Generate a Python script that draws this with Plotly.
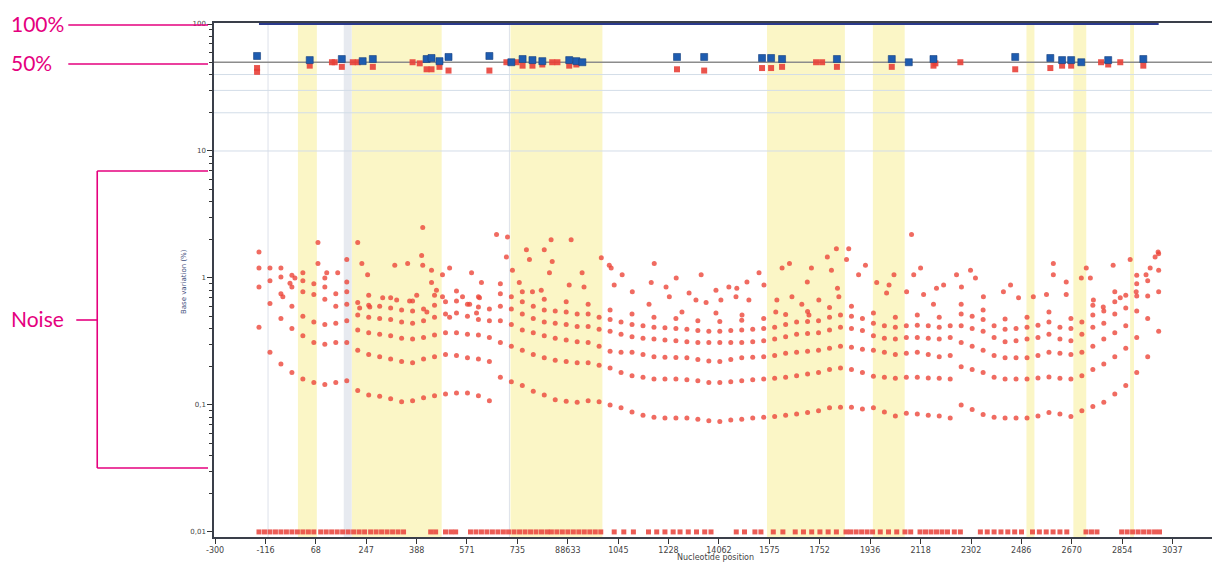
import plotly.graph_objects as go

# ---------------- data ----------------
TICK_POS = [-300, -116, 67, 251, 435, 618, 802, 986, 1170, 1353, 1537, 1721,
            1904, 2088, 2272, 2456, 2639, 2823, 3007, 3190]
TICK_TEXT = ["-300", "-116", "68", "247", "388", "571", "735", "88633", "1045",
             "1228", "14062", "1575", "1752", "1936", "2118", "2302", "2486",
             "2670", "2854", "3037"]

Y_TICKS = [0.01, 0.1, 1, 10, 100]
Y_TICK_TEXT = ["0,01", "0,1", "1", "10", "100"]

GRID_X = [-140, -100, -60, -20, 20, 60, 100, 140, 180, 220, 260, 300, 340, 380,
          420, 460, 500, 540, 580, 620, 660, 700, 740, 780, 820, 860, 900, 940,
          980, 1020, 1060, 1100, 1140, 1180, 1220, 1260, 1300, 1340, 1380, 1420,
          1460, 1500, 1540, 1580, 1620, 1660, 1700, 1740, 1780, 1820, 1860, 1900,
          1940, 1980, 2020, 2060, 2100, 2140, 2180, 2220, 2260, 2300, 2340, 2380,
          2420, 2460, 2500, 2540, 2580, 2620, 2660, 2700, 2740, 2780, 2820, 2860,
          2900, 2940, 2980, 3020, 3060, 3100, 3140]

BAND1 = [0.41, 0.26, 0.21, 0.18, 0.16, 0.15, 0.145, 0.15, 0.155, 0.13,
         0.12, 0.117, 0.112, 0.106, 0.108, 0.114, 0.118, 0.122, 0.124, 0.124,
         0.118, 0.108, 0.165, 0.152, 0.142, 0.128, 0.12, 0.11, 0.107, 0.105,
         0.108, 0.106, 0.1, 0.095, 0.088, 0.083, 0.08, 0.079, 0.079, 0.079,
         0.077, 0.075, 0.074, 0.076, 0.077, 0.079, 0.08, 0.081, 0.083, 0.085,
         0.087, 0.09, 0.095, 0.096, 0.096, 0.093, 0.095, 0.088, 0.082, 0.086,
         0.085, 0.083, 0.082, 0.079, 0.1, 0.092, 0.084, 0.08, 0.079, 0.079,
         0.079, 0.082, 0.087, 0.085, 0.081, 0.09, 0.097, 0.105, 0.122, 0.142,
         0.18, 0.24, 0.38]
BAND2 = [0.85, 0.63, 0.48, 0.40, 0.35, 0.31, 0.30, 0.31, 0.31, 0.27,
         0.25, 0.24, 0.23, 0.22, 0.215, 0.23, 0.24, 0.25, 0.245, 0.235,
         0.23, 0.22, 0.31, 0.29, 0.27, 0.25, 0.235, 0.225, 0.22, 0.215,
         0.215, 0.205, 0.195, 0.18, 0.17, 0.165, 0.16, 0.16, 0.16, 0.158,
         0.155, 0.15, 0.15, 0.152, 0.155, 0.158, 0.16, 0.162, 0.165, 0.17,
         0.175, 0.18, 0.19, 0.195, 0.19, 0.18, 0.168, 0.165, 0.162, 0.165,
         0.165, 0.163, 0.162, 0.16, 0.2, 0.19, 0.18, 0.165, 0.16, 0.16,
         0.16, 0.163, 0.166, 0.162, 0.16, 0.17, 0.19, 0.21, 0.24, 0.28,
         0.34, 0.48, 0.78]
BAND3 = [1.2, 0.95, 0.75, 0.6, 0.5, 0.45, 0.43, 0.44, 0.46, 0.39,
         0.37, 0.36, 0.35, 0.335, 0.33, 0.34, 0.355, 0.37, 0.37, 0.36,
         0.355, 0.34, 0.46, 0.43, 0.39, 0.37, 0.35, 0.335, 0.325, 0.315,
         0.31, 0.29, 0.265, 0.26, 0.26, 0.25, 0.24, 0.238, 0.236, 0.235,
         0.228, 0.222, 0.22, 0.228, 0.235, 0.238, 0.24, 0.245, 0.255, 0.26,
         0.265, 0.27, 0.28, 0.29, 0.285, 0.275, 0.27, 0.26, 0.25, 0.255,
         0.26, 0.25, 0.24, 0.245, 0.31, 0.29, 0.27, 0.245, 0.235, 0.235,
         0.235, 0.245, 0.26, 0.255, 0.25, 0.26, 0.29, 0.33, 0.37, 0.42,
         0.55, 0.72, 1.15]
BAND4 = [1.6, 1.2, 1.02, 0.85, 0.78, 0.74, 0.68, 0.6, 0.62, 0.51,
         0.49, 0.48, 0.47, 0.45, 0.44, 0.46, 0.49, 0.52, 0.53, 0.5,
         0.47, 0.46, 0.6, 0.57, 0.52, 0.48, 0.45, 0.44, 0.43, 0.415,
         0.415, 0.395, 0.38, 0.36, 0.345, 0.335, 0.33, 0.325, 0.32, 0.315,
         0.31, 0.31, 0.31, 0.31, 0.31, 0.315, 0.32, 0.33, 0.345, 0.36,
         0.365, 0.37, 0.39, 0.41, 0.4, 0.385, 0.35, 0.335, 0.33, 0.34,
         0.34, 0.335, 0.33, 0.34, 0.42, 0.4, 0.38, 0.34, 0.315, 0.32,
         0.33, 0.34, 0.36, 0.33, 0.32, 0.36, 0.41, 0.44, 0.52, 0.58,
         0.72, 0.95, 1.55]
BAND5 = [None, None, 1.2, 1.05, 0.95, 0.9, 0.85, 0.75, 0.78, 0.64,
         0.61, 0.6, 0.58, 0.56, 0.55, 0.57, 0.61, 0.65, 0.66, 0.62,
         0.59, 0.57, 0.75, 0.71, 0.65, 0.6, 0.56, 0.55, 0.54, 0.52,
         0.52, 0.49, 0.47, 0.45, 0.43, 0.42, 0.41, 0.405, 0.4, 0.395,
         0.385, 0.38, 0.38, 0.385, 0.39, 0.395, 0.4, 0.41, 0.43, 0.45,
         0.455, 0.46, 0.49, 0.51, 0.5, 0.48, 0.44, 0.42, 0.41, 0.42,
         0.425, 0.42, 0.41, 0.42, 0.52, 0.5, 0.47, 0.42, 0.395, 0.4,
         0.41, 0.425, 0.45, 0.41, 0.4, 0.45, 0.51, 0.55, 0.65, 0.73,
         0.9, None, None]
BAND6 = [None, None, None, None, 1.1, None, 1.0, None, 0.93, None,
         0.73, None, 0.7, None, 0.66, None, 0.73, None, 0.79, None,
         0.71, None, 0.9, None, 0.78, None, 0.68, None, 0.65, None,
         0.62, None, 0.56, None, 0.52, None, 0.49, None, 0.48, None,
         0.46, None, 0.455, None, 0.465, None, 0.48, None, 0.515, None,
         0.545, None, 0.585, None, 0.6, None, 0.53, None, 0.49, None,
         0.51, None, 0.49, None, 0.62, None, 0.56, None, 0.475, None,
         0.49, None, 0.54, None, 0.48, None, 0.61, None, 0.78, None,
         1.05, None, None]

EXTRA_X = [-27, -9, 75, 75, 107, 147, 180, 220, 235, 256, 355, 402, 453, 457,
           457, 489, 489, 529, 555, 635, 671, 726, 766, 762, 784, 835, 846, 900,
           925, 929, 998, 919, 1038, 809, 857, 889, 991, 1045,
           1108, 1137, 1144, 1184, 1155, 1301, 1381, 1472, 1290, 1344, 1428, 1526,
           1573, 1602, 1639, 1683, 1701, 1767, 1794, 1859, 1874, 1932, 1965, 1969,
           1947, 2010, 2002, 2046, 2071,
           1221, 1356, 1453, 1490, 1544, 1599, 1646, 1748, 1803, 1839, 1901, 1974,
           1282, 1402, 1526, 1621, 1744, 1865,
           2239, 2272, 2247, 2175, 2157, 2454, 2472, 2403, 2421, 2330, 2356, 2600,
           2574, 2501, 2629, 2756, 2756, 2803, 2731, 2876, 2858, 2891, 2974, 3036,
           3138, 3127, 3109, 3094, 3058, 3000, 2938, 2902, 2803, 2683, 2319, 2283,
           2221, 2148, 2112,
           -53, 311, 362, 409, 435, 507, 529, 602, 664, 628, 472, 264, 227, 555, 653]
EXTRA_Y = [0.91, 1.0, 1.9, 1.3, 1.1, 1.1, 1.4, 1.9, 1.3, 1.06, 1.26, 1.3, 1.5, 2.5,
           1.26, 1.15, 0.92, 1.06, 1.2, 1.1, 0.92, 2.2, 2.1, 1.46, 1.15, 1.67, 1.4, 1.67,
           2.0, 1.35, 2.0, 1.1, 1.1, 0.92, 0.78, 0.8, 0.88, 0.85,
           1.44, 1.26, 1.2, 1.06, 0.88, 1.3, 1.0, 1.06, 0.92, 0.85, 0.76, 0.8,
           0.85, 0.83, 0.93, 1.1, 0.88, 1.2, 1.3, 0.93, 1.2, 1.46, 1.7, 0.83,
           1.15, 1.7, 1.4, 1.06, 1.26,
           0.78, 0.71, 0.67, 0.64, 0.67, 0.71, 0.67, 0.67, 0.71, 0.62, 0.67, 0.71,
           0.62, 0.54, 0.53, 0.51, 0.54, 0.51,
           2.2, 1.2, 1.06, 1.06, 0.88, 1.15, 1.0, 1.06, 0.85, 0.83, 0.88, 0.88,
           0.78, 0.71, 0.70, 1.3, 1.06, 0.93, 0.74, 1.2, 1.0, 1.0, 1.26, 1.4,
           1.6, 1.46, 1.2, 1.06, 0.78, 0.70, 0.59, 0.67, 0.74, 0.71, 0.62, 0.74,
           0.78, 0.76, 0.92,
           0.71, 0.70, 0.67, 0.66, 0.73, 0.8, 0.71, 0.71, 0.70, 0.62, 0.54, 0.59, 0.58, 0.49, 0.53]

TOP_BLUE_X = [-147, 45, 162, 238, 275, 471, 489, 518, 551, 700, 780, 821, 857,
              893, 991, 1017, 1039, 1384, 1483, 1694, 1727, 1767, 1967, 2167,
              2229, 2319, 2617, 2745, 2788, 2821, 2858, 2956, 3084]
TOP_BLUE_Y = [56, 52, 53, 51, 53, 53, 54, 51, 55, 56, 50, 53, 52,
              51, 52, 51, 50, 55, 55, 54, 54, 53, 53, 53,
              50, 53, 55, 54, 52, 52, 50, 52, 53]
TOP_RED_X = [-147, -147, 45, 126, 136, 162, 202, 220, 275, 420, 446, 471, 489,
             518, 551, 700, 762, 799, 821, 857, 893, 929, 948, 991, 1017, 1384,
             1483, 1694, 1727, 1767, 1891, 1913, 1967, 2167, 2319, 2326, 2417,
             2617, 2745, 2788, 2821, 2930, 2956, 3000, 3084]
TOP_RED_Y = [45, 42, 47, 50, 50, 46, 50, 50, 46, 50, 49, 44, 44,
             46, 43, 43, 50, 50, 47, 47, 48, 50, 50, 47, 48, 44,
             43, 45, 45, 46, 50, 50, 46, 46, 47, 49, 50,
             44, 45, 47, 47, 50, 48, 50, 47]

BOTTOM_X = [-140, -120, -100, -80, -60, -40, -20, 0, 20, 40, 60,
            85, 105, 125, 145, 165, 185, 205, 225, 245,
            267, 287, 307, 327, 347, 367, 387, 486, 504, 540, 560, 577,
            631, 651, 671, 691, 711, 731, 751, 770, 790, 810, 830, 850, 870, 890, 910,
            926, 946, 966, 986, 1006, 1026, 1046, 1066, 1086, 1106,
            1155, 1190, 1225, 1280, 1310, 1340, 1370, 1395, 1425, 1455, 1485, 1508,
            1600, 1630, 1668, 1690, 1735, 1770,
            1815, 1845, 1875, 1905, 1935, 1965, 2000, 2017, 2037, 2057, 2077, 2097,
            2125, 2155, 2185, 2215, 2236, 2270, 2290, 2310, 2330, 2350, 2370,
            2395, 2417, 2490, 2515, 2540, 2565, 2590, 2615, 2640,
            2680, 2705, 2730, 2755, 2780, 2805, 2875, 2895, 2915,
            3005, 3025, 3045, 3065, 3085, 3105, 3125, 3143]
BOTTOM_Y = [0.01] * len(BOTTOM_X)
HUNDRED_Y = [100] * len(GRID_X)

YELLOW_START = [2, 198, 777, 1712, 2098, 2658, 2829, 3036]
YELLOW_END = [71, 526, 1112, 1996, 2214, 2687, 2876, 3050]
GREY_START = [169]
GREY_END = [198]
MARK_LINES = [-107, 773]
H_GRID = [10, 20, 30, 40]
H_REF = 50

# ---------------- layout geometry ----------------
# the page body has an 8 px margin, so the figure is 8 px smaller and offset
OFF = 8
W, H = 1220 - OFF, 565 - OFF
PL, PR, PT, PB = 214, 1218, 23, 537      # plot area in page pixels


def pxx(px):
    return (px - PL) / (PR - PL)


def pxy(py):
    return (PB - py) / (PB - PT)


MAG = "#e5007e"
RED = "rgba(236,70,58,0.8)"

fig = go.Figure()

fig.add_trace(go.Scatter(x=BOTTOM_X, y=BOTTOM_Y, mode="markers",
                         marker=dict(symbol="square", size=5, color="rgba(232,64,56,0.85)")))
for band in [BAND1, BAND2, BAND3, BAND4, BAND5, BAND6]:
    fig.add_trace(go.Scatter(x=GRID_X, y=band, mode="markers",
                             marker=dict(size=5, color=RED)))
fig.add_trace(go.Scatter(x=EXTRA_X, y=EXTRA_Y, mode="markers",
                         marker=dict(size=5, color=RED)))
fig.add_trace(go.Scatter(x=TOP_RED_X, y=TOP_RED_Y, mode="markers",
                         marker=dict(symbol="square", size=6, color="rgba(232,64,56,0.9)")))
fig.add_trace(go.Scatter(x=TOP_BLUE_X, y=TOP_BLUE_Y, mode="markers",
                         marker=dict(symbol="square", size=7, color="#1e5cb0",
                                     line=dict(color="#163f7e", width=0.6))))
fig.add_trace(go.Scatter(x=GRID_X, y=HUNDRED_Y, mode="lines",
                         line=dict(color="#2b3a8c", width=2)))

shapes = []
for s, e in zip(YELLOW_START, YELLOW_END):
    shapes.append(dict(type="rect", xref="x", yref="paper", x0=s, x1=e, y0=0, y1=1,
                       fillcolor="#fbf6c6", line=dict(width=0), layer="below"))
for s, e in zip(GREY_START, GREY_END):
    shapes.append(dict(type="rect", xref="x", yref="paper", x0=s, x1=e, y0=0, y1=1,
                       fillcolor="#e7eaf0", line=dict(width=0), layer="below"))
for m in MARK_LINES:
    shapes.append(dict(type="line", xref="x", yref="paper", x0=m, x1=m, y0=0, y1=1,
                       line=dict(color="#dde2ea", width=1), layer="below"))
for g in H_GRID:
    shapes.append(dict(type="line", xref="paper", yref="y", x0=0, x1=1, y0=g, y1=g,
                       line=dict(color="#d3dde8", width=1), layer="below"))
shapes.append(dict(type="line", xref="paper", yref="y", x0=0, x1=1, y0=H_REF, y1=H_REF,
                   line=dict(color="#8c8c8c", width=1.5), layer="below"))


def mline(x0, y0, x1, y1):
    return dict(type="line", xref="paper", yref="paper", x0=pxx(x0), x1=pxx(x1),
                y0=pxy(y0), y1=pxy(y1), line=dict(color=MAG, width=1.6))


shapes += [mline(68, 25, 208, 25), mline(68, 64, 208, 64),
           mline(97, 171, 208, 171), mline(97, 468, 208, 468),
           mline(97, 171, 97, 468), mline(76, 320, 97, 320)]

annotations = []
for txt, py in [("100%", 23), ("50%", 63), ("Noise", 318)]:
    annotations.append(dict(text=txt, xref="paper", yref="paper", x=pxx(9), y=pxy(py),
                            xanchor="left", yanchor="middle", showarrow=False,
                            font=dict(family="Lato", size=21, color=MAG)))
annotations.append(dict(text="Base variation (%)", xref="paper", yref="paper",
                        x=pxx(184), y=pxy(282), textangle=-90, showarrow=False,
                        xanchor="center", yanchor="middle",
                        font=dict(family="DejaVu Sans", size=7, color="#3b4a7a")))
annotations.append(dict(text="Nucleotide position", xref="paper", yref="paper",
                        x=pxx(716), y=pxy(557), showarrow=False,
                        xanchor="center", yanchor="middle",
                        font=dict(family="DejaVu Sans", size=8, color="#444444")))

minor_vals = [m * 10 ** e for e in range(-2, 2) for m in range(2, 10)]

fig.update_layout(
    width=W, height=H,
    margin=dict(l=PL - OFF, r=W - (PR - OFF), t=PT - OFF, b=H - (PB - OFF), pad=0),
    paper_bgcolor="white", plot_bgcolor="white",
    showlegend=False,
    shapes=shapes, annotations=annotations,
    xaxis=dict(range=[-304, 3349], tickmode="array", tickvals=TICK_POS,
               ticktext=TICK_TEXT, ticks="outside", ticklen=5, tickwidth=1.2,
               tickcolor="#333", showgrid=False, zeroline=False,
               showline=True, linecolor="#3a3f4a", linewidth=1.5, mirror=True,
               tickfont=dict(family="DejaVu Sans", size=8, color="#444")),
    yaxis=dict(type="log", range=[-2.04, 2.008], tickmode="array",
               tickvals=Y_TICKS, ticktext=Y_TICK_TEXT, ticks="outside",
               ticklen=5, tickwidth=1.2, tickcolor="#333", showgrid=False,
               zeroline=False, showline=True, linecolor="#3a3f4a", linewidth=1.5,
               mirror=True,
               minor=dict(tickvals=minor_vals, ticks="outside", ticklen=3,
                          tickcolor="#333", showgrid=False),
               tickfont=dict(family="DejaVu Sans", size=7, color="#444")),
)

fig.write_html("out.html")
